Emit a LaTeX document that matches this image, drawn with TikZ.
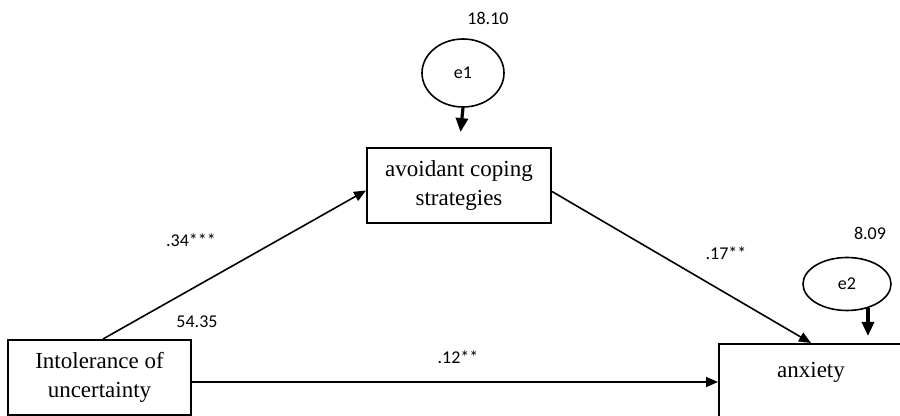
\documentclass[tikz,border=0pt]{standalone}
\usepackage{fontspec}
\setmainfont{Liberation Serif}
\newfontfamily\calfont{Carlito}
\usetikzlibrary{shapes.geometric,arrows.meta}

\begin{document}
\begin{tikzpicture}[x=0.5pt,y=-0.5pt,
  var/.style={draw=black, line width=1pt, align=center, inner sep=0pt,
    font=\fontsize{11.5}{14.5}\selectfont},
  err/.style={ellipse, draw=black, line width=0.8pt, inner sep=0pt,
    font=\calfont\fontsize{9}{11}\selectfont},
  num/.style={font=\calfont\fontsize{9}{11}\selectfont, inner sep=0pt},
  effect/.style={line width=0.8pt, -{Triangle[length=6pt,width=5pt]}},
  errarrow/.style={line width=1.6pt, -{Triangle[length=7pt,width=6pt]}}]
\useasboundingbox (0,0) rectangle (900,416);
% variables
\node (avoid) [var, minimum width=92pt, minimum height=37.5pt] at (459,185.5)
  {avoidant coping\\strategies};
\node (intol) [var, minimum width=91.5pt, minimum height=37.5pt] at (99.5,377.5)
  {Intolerance of\\uncertainty};
\node (anx) [var, anchor=north west, minimum width=92pt, minimum height=50pt,
  label={[anchor=center, yshift=-14.5pt, font=\fontsize{11.5}{14.5}\selectfont]north:anxiety}]
  at (718,343) {};
% error terms
\node (e1) [err, minimum width=41pt, minimum height=34pt] at (463,73) {e1};
\node (e2) [err, minimum width=44pt, minimum height=26.5pt] at (847,284) {e2};
\node (v1) [num] at (488,18) {18.10};
\node (v2) [num] at (870,233) {8.09};
\node (v0) [num] at (197,322) {54.35};
% paths
\draw[effect] ([xshift=1.75pt]intol.north) -- ([yshift=-2.5pt]avoid.west);
\draw[effect] ([yshift=-3pt]avoid.east) -- (anx.north);
\draw[effect] ([yshift=-2.25pt]intol.east) -- ([yshift=-2.25pt]intol.east -| anx.west);
\draw[errarrow, shorten >=7.5pt] (e1.south) -- (avoid.north);
\draw[errarrow, shorten >=3.5pt] (e2.-49) -- (e2.-49 |- anx.north);
\node (b1) [num] at (191,240) {.34***};
\node (b2) [num] at (726,253) {.17**};
\node (b3) [num] at (458,357) {.12**};
\end{tikzpicture}
\end{document}
